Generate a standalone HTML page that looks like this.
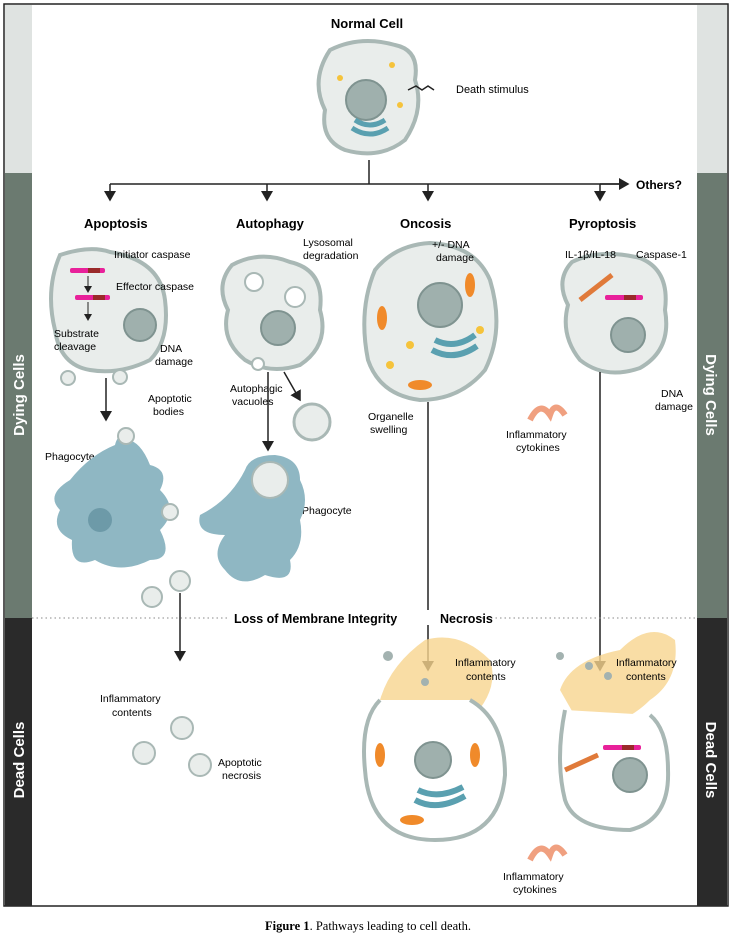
<!DOCTYPE html>
<html><head><style>
body{margin:0;background:#fff;width:731px;height:938px;overflow:hidden}
svg text{font-family:"Liberation Sans",Arial,sans-serif}
</style></head><body>
<svg width="731" height="938" viewBox="0 0 731 938" xmlns="http://www.w3.org/2000/svg">
<defs>
<marker id="ar" markerWidth="8" markerHeight="8" refX="6" refY="4" orient="auto"><path d="M0,0 L7,4 L0,8z" fill="#222"/></marker>
</defs>
<rect x="4" y="4" width="724" height="902" fill="#fff" stroke="#222" stroke-width="1.5"/>
<!-- left band -->
<rect x="5" y="5" width="27" height="168" fill="#dfe3e1"/>
<rect x="5" y="173" width="27" height="445" fill="#6b7a70"/>
<rect x="5" y="618" width="27" height="288" fill="#2a2a2a"/>
<!-- right band -->
<rect x="697" y="5" width="30" height="168" fill="#dfe3e1"/>
<rect x="697" y="173" width="30" height="445" fill="#6b7a70"/>
<rect x="697" y="618" width="30" height="288" fill="#2a2a2a"/>
<text transform="translate(24,395) rotate(-90)" text-anchor="middle" fill="#fff" font-weight="bold" font-size="15">Dying Cells</text>
<text transform="translate(24,760) rotate(-90)" text-anchor="middle" fill="#fff" font-weight="bold" font-size="15">Dead Cells</text>
<text transform="translate(706,395) rotate(90)" text-anchor="middle" fill="#fff" font-weight="bold" font-size="15">Dying Cells</text>
<text transform="translate(706,760) rotate(90)" text-anchor="middle" fill="#fff" font-weight="bold" font-size="15">Dead Cells</text>

<!-- normal cell -->
<text x="367" y="28" text-anchor="middle" font-weight="bold" font-size="13">Normal Cell</text>
<path d="M330,50 Q360,35 395,45 Q420,50 415,80 Q425,110 405,140 Q380,160 345,150 Q320,140 325,110 Q310,80 330,50z" fill="#e9edeb" stroke="#a9b8b5" stroke-width="4"/>
<circle cx="366" cy="100" r="20" fill="#9fb0ad" stroke="#7f9390" stroke-width="2"/>
<path d="M355,120 q15,10 30,0 M352,128 q18,12 36,0" stroke="#5aa0b0" stroke-width="5" fill="none"/>
<circle cx="340" cy="78" r="3" fill="#f5c33b"/><circle cx="400" cy="105" r="3" fill="#f5c33b"/><circle cx="392" cy="65" r="3" fill="#f5c33b"/>
<path d="M408,90 l8,-4 l6,4 l6,-4 l6,4" stroke="#222" fill="none" stroke-width="1.5"/>
<text x="456" y="93" font-size="11">Death stimulus</text>

<!-- branch lines -->
<line x1="369" y1="160" x2="369" y2="184" stroke="#222" stroke-width="1.5"/>
<line x1="110" y1="184" x2="628" y2="184" stroke="#222" stroke-width="1.5"/>
<line x1="110" y1="184" x2="110" y2="200" stroke="#222" stroke-width="1.5" marker-end="url(#ar)"/>
<line x1="267" y1="184" x2="267" y2="200" stroke="#222" stroke-width="1.5" marker-end="url(#ar)"/>
<line x1="428" y1="184" x2="428" y2="200" stroke="#222" stroke-width="1.5" marker-end="url(#ar)"/>
<line x1="600" y1="184" x2="600" y2="200" stroke="#222" stroke-width="1.5" marker-end="url(#ar)"/>
<line x1="600" y1="184" x2="628" y2="184" stroke="#222" stroke-width="1.5" marker-end="url(#ar)"/>
<text x="636" y="189" font-weight="bold" font-size="12">Others?</text>

<g font-weight="bold" font-size="13">
<text x="84" y="228">Apoptosis</text><text x="236" y="228">Autophagy</text><text x="400" y="228">Oncosis</text><text x="569" y="228">Pyroptosis</text>
</g>

<!-- apoptosis -->
<path d="M60,255 Q90,245 110,252 Q160,260 165,300 Q170,340 150,360 Q120,375 90,370 Q60,365 55,330 Q45,290 60,255z" fill="#e9edeb" stroke="#a9b8b5" stroke-width="4"/>
<rect x="70" y="268" width="35" height="5" rx="2" fill="#e8219a"/><rect x="88" y="268" width="12" height="5" fill="#9a2a2a"/>
<rect x="75" y="295" width="35" height="5" rx="2" fill="#e8219a"/><rect x="93" y="295" width="12" height="5" fill="#9a2a2a"/>
<line x1="88" y1="276" x2="88" y2="292" stroke="#222" marker-end="url(#ar)"/>
<line x1="88" y1="302" x2="88" y2="320" stroke="#222" marker-end="url(#ar)"/>
<circle cx="140" cy="325" r="16" fill="#9fb0ad" stroke="#7f9390" stroke-width="2"/>
<g font-size="10.5"><text x="114" y="258">Initiator caspase</text><text x="116" y="290">Effector caspase</text>
<text x="54" y="337">Substrate</text><text x="54" y="350">cleavage</text><text x="160" y="352">DNA</text><text x="155" y="365">damage</text>
<text x="148" y="402">Apoptotic</text><text x="153" y="415">bodies</text><text x="45" y="460">Phagocyte</text></g>
<circle cx="68" cy="378" r="7" fill="#e9edeb" stroke="#a9b8b5" stroke-width="2"/><circle cx="120" cy="377" r="7" fill="#e9edeb" stroke="#a9b8b5" stroke-width="2"/>
<line x1="106" y1="378" x2="106" y2="420" stroke="#222" stroke-width="1.5" marker-end="url(#ar)"/>
<path d="M70,480 Q90,455 115,445 Q118,432 126,440 Q140,440 150,465 Q170,470 160,490 Q180,510 160,530 Q175,560 150,560 Q120,575 95,560 Q70,570 72,540 Q50,530 60,510 Q45,495 70,480z" fill="#8fb7c3"/>
<circle cx="126" cy="436" r="8" fill="#e9edeb" stroke="#a9b8b5" stroke-width="2"/><circle cx="100" cy="520" r="12" fill="#6d9aa8"/>
<circle cx="170" cy="512" r="8" fill="#e9edeb" stroke="#a9b8b5" stroke-width="2"/>
<circle cx="152" cy="597" r="10" fill="#e9edeb" stroke="#a9b8b5" stroke-width="2"/><circle cx="180" cy="581" r="10" fill="#e9edeb" stroke="#a9b8b5" stroke-width="2"/>
<line x1="180" y1="593" x2="180" y2="660" stroke="#222" stroke-width="1.5" marker-end="url(#ar)"/>
<g font-size="10.5"><text x="100" y="702">Inflammatory</text><text x="112" y="716">contents</text><text x="218" y="766">Apoptotic</text><text x="222" y="779">necrosis</text></g>
<circle cx="144" cy="753" r="11" fill="#e9edeb" stroke="#a9b8b5" stroke-width="2"/>
<circle cx="182" cy="728" r="11" fill="#e9edeb" stroke="#a9b8b5" stroke-width="2"/>
<circle cx="200" cy="765" r="11" fill="#e9edeb" stroke="#a9b8b5" stroke-width="2"/>

<!-- autophagy -->
<path d="M232,265 Q260,250 290,262 Q325,270 320,310 Q330,345 300,365 Q270,375 245,360 Q220,340 228,310 Q215,285 232,265z" fill="#e9edeb" stroke="#a9b8b5" stroke-width="4"/>
<circle cx="278" cy="328" r="17" fill="#9fb0ad" stroke="#7f9390" stroke-width="2"/>
<circle cx="254" cy="282" r="9" fill="#fff" stroke="#a9b8b5" stroke-width="2"/><circle cx="295" cy="297" r="10" fill="#fff" stroke="#a9b8b5" stroke-width="2"/>
<circle cx="258" cy="364" r="6" fill="#fff" stroke="#a9b8b5" stroke-width="2"/>
<g font-size="10.5"><text x="303" y="246">Lysosomal</text><text x="303" y="259">degradation</text><text x="230" y="392">Autophagic</text><text x="232" y="405">vacuoles</text><text x="302" y="514">Phagocyte</text></g>
<line x1="268" y1="372" x2="268" y2="450" stroke="#222" stroke-width="1.5" marker-end="url(#ar)"/>
<line x1="284" y1="372" x2="300" y2="400" stroke="#222" stroke-width="1.5" marker-end="url(#ar)"/>
<circle cx="312" cy="422" r="18" fill="#e9edeb" stroke="#a9b8b5" stroke-width="3"/>
<path d="M200,515 Q230,500 245,470 Q250,455 275,455 Q300,458 300,480 Q310,500 300,520 Q305,545 290,560 Q295,585 265,575 Q240,590 225,570 Q210,555 225,535 Q195,535 200,515z" fill="#8fb7c3"/>
<circle cx="270" cy="480" r="18" fill="#e9edeb" stroke="#a9b8b5" stroke-width="2"/>

<!-- oncosis -->
<path d="M375,270 Q395,245 430,243 Q475,245 490,280 Q505,330 485,370 Q460,400 420,400 Q380,395 368,360 Q358,310 375,270z" fill="#e9edeb" stroke="#a9b8b5" stroke-width="4"/>
<circle cx="440" cy="305" r="22" fill="#9fb0ad" stroke="#7f9390" stroke-width="2"/>
<path d="M435,340 q20,10 40,-5 M432,350 q22,12 45,-4" stroke="#5aa0b0" stroke-width="6" fill="none"/>
<ellipse cx="382" cy="318" rx="5" ry="12" fill="#f08a2a"/><ellipse cx="420" cy="385" rx="12" ry="5" fill="#f08a2a"/><ellipse cx="470" cy="285" rx="5" ry="12" fill="#f08a2a"/>
<circle cx="410" cy="345" r="4" fill="#f5c33b"/><circle cx="390" cy="365" r="4" fill="#f5c33b"/><circle cx="480" cy="330" r="4" fill="#f5c33b"/>
<g font-size="10.5"><text x="432" y="248">+/- DNA</text><text x="436" y="261">damage</text><text x="368" y="420">Organelle</text><text x="370" y="433">swelling</text></g>
<line x1="428" y1="402" x2="428" y2="670" stroke="#222" stroke-width="1.5" marker-end="url(#ar)"/>

<!-- pyroptosis -->
<path d="M572,262 Q600,248 640,258 Q670,270 665,310 Q672,350 640,368 Q605,380 580,360 Q560,335 568,305 Q555,280 572,262z" fill="#e9edeb" stroke="#a9b8b5" stroke-width="4"/>
<circle cx="628" cy="335" r="17" fill="#9fb0ad" stroke="#7f9390" stroke-width="2"/>
<rect x="605" y="295" width="38" height="5" rx="2" fill="#e8219a"/><rect x="624" y="295" width="12" height="5" fill="#9a2a2a"/>
<line x1="580" y1="300" x2="612" y2="275" stroke="#e07a3a" stroke-width="5"/>
<g font-size="10.5"><text x="565" y="258">IL-1β/IL-18</text><text x="636" y="258">Caspase-1</text><text x="661" y="397">DNA</text><text x="655" y="410">damage</text>
<text x="506" y="438">Inflammatory</text><text x="516" y="451">cytokines</text></g>
<path d="M530,420 q10,-20 20,-5 q5,-15 15,0" stroke="#f0a080" stroke-width="6" fill="none"/>
<line x1="600" y1="372" x2="600" y2="670" stroke="#222" stroke-width="1.5" marker-end="url(#ar)"/>

<!-- divider -->
<line x1="32" y1="618" x2="697" y2="618" stroke="#888" stroke-dasharray="1.5,3"/>
<rect x="230" y="610" width="250" height="15" fill="#fff"/>
<text x="234" y="623" font-weight="bold" font-size="12.5">Loss of Membrane Integrity</text>
<text x="440" y="623" font-weight="bold" font-size="12.5">Necrosis</text>

<!-- necrosis cell -->
<path d="M380,700 Q390,665 425,640 Q460,630 490,660 Q500,690 470,720 Q430,735 395,720z" fill="#f7d48e" opacity="0.8"/>
<path d="M380,700 Q360,720 365,770 Q370,840 435,840 Q500,840 505,775 Q505,720 470,700" fill="#fff" stroke="#a9b8b5" stroke-width="4"/>
<circle cx="433" cy="760" r="18" fill="#9fb0ad" stroke="#7f9390" stroke-width="2"/>
<path d="M418,790 q20,10 45,-3 M415,800 q22,12 50,-4" stroke="#5aa0b0" stroke-width="6" fill="none"/>
<ellipse cx="380" cy="755" rx="5" ry="12" fill="#f08a2a"/><ellipse cx="412" cy="820" rx="12" ry="5" fill="#f08a2a"/><ellipse cx="475" cy="755" rx="5" ry="12" fill="#f08a2a"/>
<circle cx="388" cy="656" r="5" fill="#a3b2b0"/><circle cx="425" cy="682" r="4" fill="#a3b2b0"/>
<g font-size="10.5"><text x="455" y="666">Inflammatory</text><text x="466" y="680">contents</text></g>

<!-- pyroptosis dead -->
<path d="M560,690 Q570,660 620,650 Q650,620 675,640 Q680,680 650,700 Q620,730 580,725z" fill="#f7d48e" opacity="0.8"/>
<path d="M565,710 Q555,760 565,800 Q575,830 630,830 Q670,820 668,770 Q668,730 650,715" fill="#fff" stroke="#a9b8b5" stroke-width="4"/>
<circle cx="630" cy="775" r="17" fill="#9fb0ad" stroke="#7f9390" stroke-width="2"/>
<rect x="603" y="745" width="38" height="5" rx="2" fill="#e8219a"/><rect x="622" y="745" width="12" height="5" fill="#9a2a2a"/>
<line x1="565" y1="770" x2="598" y2="755" stroke="#e07a3a" stroke-width="5"/>
<circle cx="589" cy="666" r="4" fill="#a3b2b0"/><circle cx="608" cy="676" r="4" fill="#a3b2b0"/><circle cx="560" cy="656" r="4" fill="#a3b2b0"/>
<g font-size="10.5"><text x="616" y="666">Inflammatory</text><text x="626" y="680">contents</text><text x="503" y="880">Inflammatory</text><text x="513" y="893">cytokines</text></g>
<path d="M530,860 q10,-20 20,-5 q5,-15 15,0" stroke="#f0a080" stroke-width="6" fill="none"/>

<text x="368" y="930" text-anchor="middle" font-family="Liberation Serif,serif" font-size="12.5" style="font-family:'Liberation Serif',serif"><tspan font-weight="bold">Figure 1</tspan>. Pathways leading to cell death.</text>
</svg>
</body></html>
